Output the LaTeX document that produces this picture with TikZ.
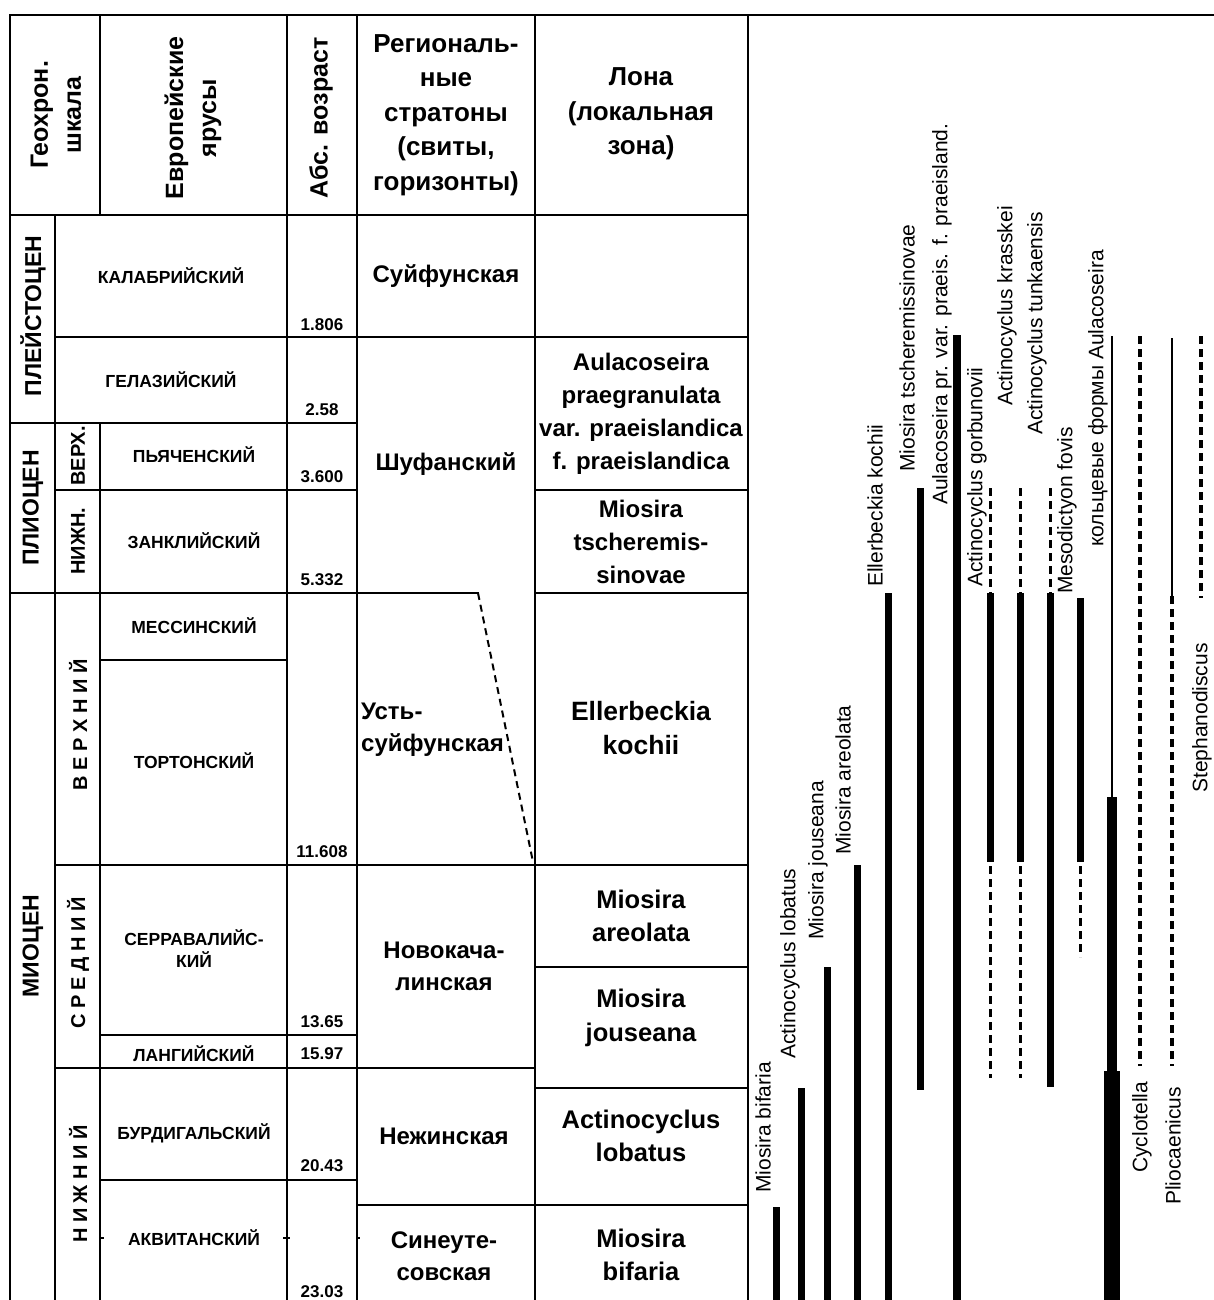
\documentclass[tikz,border=0pt]{standalone}
\usepackage{fontspec}
\setmainfont{Liberation Sans}
\begin{document}
\begin{tikzpicture}[x=1pt,y=-1pt,
  tab/.style={line width=2pt, line cap=rect},
  hdr/.style={font=\fontsize{26}{34.5}\selectfont\bfseries, align=center, inner sep=0pt},
  rhdr/.style={font=\fontsize{25}{33}\selectfont\bfseries, align=center, inner sep=0pt, rotate=90},
  epoch/.style={font=\fontsize{23}{26}\selectfont\bfseries, inner sep=0pt, rotate=90},
  sub/.style={font=\fontsize{20}{24}\selectfont\bfseries, inner sep=0pt, rotate=90},
  stg/.style={font=\fontsize{17.5}{22}\selectfont\bfseries, align=center, inner sep=0pt},
  age/.style={font=\fontsize{17}{20}\selectfont\bfseries, inner sep=0pt},
  reg/.style={font=\fontsize{24}{32}\selectfont\bfseries, align=center, inner sep=0pt},
  lona/.style={font=\fontsize{24}{33}\selectfont\bfseries, align=center, inner sep=0pt},
  lonab/.style={font=\fontsize{25.5}{33.5}\selectfont\bfseries, align=center, inner sep=0pt},
  sp/.style={font=\fontsize{21}{24}\selectfont, rotate=90, anchor=west, inner sep=0pt},
  thickbar/.style={line width=7pt},
  medbar/.style={line width=10pt},
  heavybar/.style={line width=16pt},
  thinbar/.style={line width=2pt},
  dashbar/.style={line width=3pt, dash pattern=on 8pt off 5pt}
]
\useasboundingbox (0,0) rectangle (1213,1300);
\fill[white] (0,0) rectangle (1213,1300);

% ---------- table grid ----------
\draw[tab] (10,15) -- (1213,15);
\draw[tab] (10,15) -- (10,1300);
\draw[tab] (55,215) -- (55,1300);
\draw[tab] (100,15) -- (100,215);
\draw[tab] (100,423) -- (100,1300);
\draw[tab] (287,15) -- (287,1300);
\draw[tab] (357,15) -- (357,1300);
\draw[tab] (535,15) -- (535,1300);
\draw[tab] (748,15) -- (748,1300);

\draw[tab] (10,215) -- (748,215);
\draw[tab] (55,337) -- (748,337);
\draw[tab] (10,423) -- (357,423);
\draw[tab] (55,490) -- (357,490);
\draw[tab] (535,490) -- (748,490);
\draw[tab] (10,593) -- (478,593);
\draw[tab] (535,593) -- (748,593);
\draw[line width=2pt, dash pattern=on 7pt off 5pt] (478,593) -- (533,862);
\draw[tab] (100,660) -- (287,660);
\draw[tab] (55,865) -- (748,865);
\draw[tab] (535,967) -- (748,967);
\draw[tab] (100,1035) -- (357,1035);
\draw[tab] (55,1068) -- (535,1068);
\draw[tab] (535,1088) -- (748,1088);
\draw[tab] (100,1180) -- (357,1180);
\draw[tab] (357,1205) -- (748,1205);
\draw[line width=2pt] (100,1238) -- (104,1238);
\draw[line width=2pt] (283,1238) -- (290,1238);
\draw[line width=2pt] (357,1238) -- (360,1238);

% ---------- header ----------
\node[rhdr] (hgeo) at (56,115) {Геохрон.\\шкала};
\node[rhdr] (heur) at (193,118) {Европейские\\ярусы};
\node[rhdr] (habs) at (321,118) {Абс. возраст};
\node[hdr] (hreg) at (446,115) {Региональ-\\ные\\стратоны\\(свиты,\\горизонты)};
\node[hdr] (hlona) at (641,114) {Лона\\(локальная\\зона)};

% ---------- epochs ----------
\node[epoch] (pleist) at (33,316) {ПЛЕЙСТОЦЕН};
\node[epoch] (plio) at (33,508) {ПЛИОЦЕН};
\node[epoch] (mio) at (33,946) {МИОЦЕН};
\node[sub] (pverh) at (78,456) {ВЕРХ.};
\node[sub] (pnizh) at (78,541) {НИЖН.};
\node[sub] (mverh) at (78,725) {В Е Р Х Н И Й};
\node[sub] (msred) at (78,963) {С Р Е Д Н И Й};
\node[sub] (mnizh) at (78,1184) {Н И Ж Н И Й};

% ---------- stages ----------
\node[stg] (s1) at (171,276) {КАЛАБРИЙСКИЙ};
\node[stg] (s2) at (171,380) {ГЕЛАЗИЙСКИЙ};
\node[stg] (s3) at (194,455) {ПЬЯЧЕНСКИЙ};
\node[stg] (s4) at (194,541) {ЗАНКЛИЙСКИЙ};
\node[stg] (s5) at (194,626) {МЕССИНСКИЙ};
\node[stg] (s6) at (194,761) {ТОРТОНСКИЙ};
\node[stg] (s7) at (194,949) {СЕРРАВАЛИЙС-\\КИЙ};
\node[stg] (s8) at (194,1054) {ЛАНГИЙСКИЙ};
\node[stg] (s9) at (194,1133) {БУРДИГАЛЬСКИЙ};
\node[stg] (s10) at (194,1238) {АКВИТАНСКИЙ};

% ---------- ages ----------
\node[age] (a1) at (322,325) {1.806};
\node[age] (a2) at (322,410) {2.58};
\node[age] (a3) at (322,477) {3.600};
\node[age] (a4) at (322,580) {5.332};
\node[age] (a5) at (322,852) {11.608};
\node[age] (a6) at (322,1022) {13.65};
\node[age] (a7) at (322,1054) {15.97};
\node[age] (a8) at (322,1166) {20.43};
\node[age] (a9) at (322,1292) {23.03};

% ---------- regional units ----------
\node[reg] (r1) at (446,276) {Суйфунская};
\node[reg] (r2) at (446,464) {Шуфанский};
\node[reg, anchor=west, align=left] (r3) at (361,730) {Усть-\\суйфунская};
\node[reg] (r4) at (444,966) {Новокача-\\линская};
\node[reg] (r5) at (444,1136) {Нежинская};
\node[reg] (r6) at (444,1256) {Синеуте-\\совская};

% ---------- zones ----------
\node[lona] (z1) at (641,414) {Aulacoseira\\praegranulata\\var. praeislandica\\f. praeislandica};
\node[lona] (z2) at (641,542) {Miosira\\tscheremis-\\sinovae};
\node[lonab, font=\fontsize{26.5}{33.5}\selectfont\bfseries] (z3) at (641,728) {Ellerbeckia\\kochii};
\node[lonab] (z4) at (641,916) {Miosira\\areolata};
\node[lonab] (z5) at (641,1018) {Miosira\\jouseana};
\node[lonab] (z6) at (641,1136) {Actinocyclus\\lobatus};
\node[lonab] (z7) at (641,1255) {Miosira\\bifaria};

% ---------- ranges ----------
\draw[thickbar] (776,1207) -- (776,1300);
\draw[thickbar] (801,1088) -- (801,1300);
\draw[thickbar] (827,967) -- (827,1300);
\draw[thickbar] (857,865) -- (857,1300);
\draw[thickbar] (888,593) -- (888,1300);
\draw[thickbar] (920,488) -- (920,1090);
\draw[line width=8pt] (957,335) -- (957,1300);
\draw[dashbar] (990,488) -- (990,593);
\draw[thickbar] (990,593) -- (990,862);
\draw[dashbar] (990,866) -- (990,1078);
\draw[dashbar] (1020,488) -- (1020,593);
\draw[thickbar] (1020,593) -- (1020,862);
\draw[dashbar] (1020,866) -- (1020,1078);
\draw[dashbar] (1050,488) -- (1050,593);
\draw[thickbar] (1050,593) -- (1050,1087);
\draw[thickbar] (1080,598) -- (1080,862);
\draw[dashbar] (1080,866) -- (1080,957);
\draw[thinbar] (1112,336) -- (1112,797);
\draw[medbar] (1112,797) -- (1112,1071);
\draw[heavybar] (1112,1071) -- (1112,1300);
\draw[dashbar, line width=3.5pt] (1140,336) -- (1140,1066);
\draw[thinbar] (1172,338) -- (1172,596);
\draw[dashbar, line width=3.5pt] (1172,596) -- (1172,1066);
\draw[dashbar, line width=3.5pt] (1201,336) -- (1201,598);

% ---------- range labels ----------
\node[sp] (l1) at (763,1193) {Miosira bifaria};
\node[sp] (l2) at (790,1059) {Actinocyclus lobatus};
\node[sp] (l3) at (818,940) {Miosira jouseana};
\node[sp] (l4) at (843,855) {Miosira areolata};
\node[sp] (l5) at (875,587) {Ellerbeckia kochii};
\node[sp] (l6) at (907,472) {Miosira tscheremissinovae};
\node[sp] (l7) at (942,505) {Aulacoseira pr. var. praeis. f. praeisland.};
\node[sp] (l8) at (977,587) {Actinocyclus gorbunovii};
\node[sp] (l9) at (1007,406) {Actinocyclus krasskei};
\node[sp] (l10) at (1037,435) {Actinocyclus tunkaensis};
\node[sp] (l11) at (1067,594) {Mesodictyon fovis};
\node[sp] (l12) at (1098,547) {кольцевые формы Aulacoseira};
\node[sp] (l13) at (1142,1173) {Cyclotella};
\node[sp] (l14) at (1173,1205) {Pliocaenicus};
\node[sp] (l15) at (1202,793) {Stephanodiscus};
\end{tikzpicture}
\end{document}
